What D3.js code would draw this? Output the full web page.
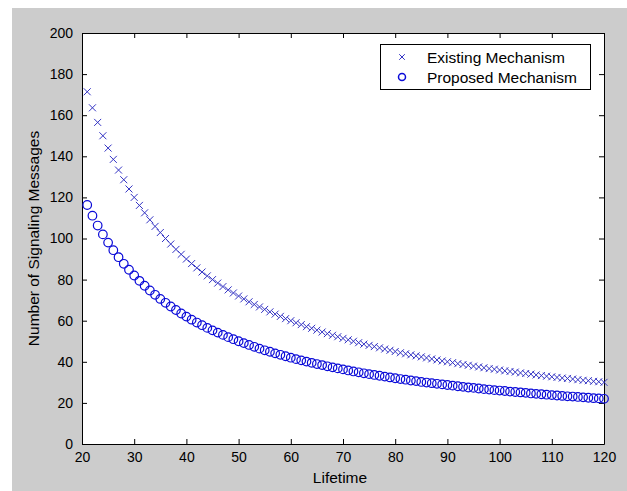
<!DOCTYPE html>
<html>
<head>
<meta charset="utf-8">
<script src="https://cdn.jsdelivr.net/npm/d3@7"></script>
<style>
  html, body { margin: 0; padding: 0; background: #ffffff; }
  svg { display: block; }
  text { font-family: "Liberation Sans", Arial, sans-serif; }
</style>
</head>
<body>
<svg id="chart" width="627" height="491"></svg>
<script>
// ---- data ----
const lifetime = [21,22,23,24,25,26,27,28,29,30,31,32,33,34,35,36,37,38,39,40,
  41,42,43,44,45,46,47,48,49,50,51,52,53,54,55,56,57,58,59,60,
  61,62,63,64,65,66,67,68,69,70,71,72,73,74,75,76,77,78,79,80,
  81,82,83,84,85,86,87,88,89,90,91,92,93,94,95,96,97,98,99,100,
  101,102,103,104,105,106,107,108,109,110,111,112,113,114,115,116,117,118,119,120];

const existing = [171.4,163.6,156.5,150.0,144.0,138.5,133.3,128.6,124.1,120.0,
  116.1,112.5,109.1,105.9,102.9,100.0,97.3,94.7,92.3,90.0,
  87.8,85.7,83.7,81.8,80.0,78.3,76.6,75.0,73.5,72.0,
  70.6,69.2,67.9,66.7,65.5,64.3,63.2,62.1,61.0,60.0,
  59.0,58.1,57.1,56.3,55.4,54.5,53.7,52.9,52.2,51.4,
  50.7,50.0,49.3,48.6,48.0,47.4,46.8,46.2,45.6,45.0,
  44.4,43.9,43.4,42.9,42.4,41.9,41.4,40.9,40.4,40.0,
  39.6,39.1,38.7,38.3,37.9,37.5,37.1,36.7,36.4,36.0,
  35.6,35.3,35.0,34.6,34.3,34.0,33.6,33.3,33.0,32.7,
  32.4,32.1,31.9,31.6,31.3,31.0,30.8,30.5,30.3,30.0];

const proposed = [116.3,111.1,106.3,102.0,98.0,94.3,90.9,87.7,84.8,82.0,
  79.4,77.0,74.7,72.6,70.6,68.7,66.9,65.2,63.5,62.0,
  60.5,59.1,57.8,56.5,55.3,54.2,53.1,52.0,51.0,50.0,
  49.1,48.2,47.3,46.4,45.6,44.9,44.1,43.4,42.7,42.0,
  41.3,40.7,40.1,39.5,38.9,38.4,37.8,37.3,36.8,36.3,
  35.8,35.3,34.9,34.4,34.0,33.6,33.2,32.8,32.4,32.0,
  31.6,31.3,30.9,30.6,30.2,29.9,29.6,29.3,29.0,28.7,
  28.4,28.1,27.8,27.5,27.3,27.0,26.7,26.5,26.2,26.0,
  25.8,25.5,25.3,25.1,24.9,24.6,24.4,24.2,24.0,23.8,
  23.6,23.4,23.2,23.1,22.9,22.7,22.5,22.3,22.2,22.0];

const xTicks = [20,30,40,50,60,70,80,90,100,110,120];
const yTicks = [0,20,40,60,80,100,120,140,160,180,200];
const seriesNames = ["Existing Mechanism", "Proposed Mechanism"];
const xTitle = "Lifetime";
const yTitle = "Number of Signaling Messages";

(function () {
// ---- layout ----
const svg = d3.select("#chart");
const W = 627, H = 491;
const pL = 82, pR = 604, pT = 33, pB = 444;
const blueX = "#3434c4";
const blueO = "#0a0ad8";
const fontSize = 14;
const titleSize = 15.5;

svg.append("rect").attr("x", 12).attr("y", 8).attr("width", W - 12).attr("height", H - 8)
  .attr("fill", "#cccccc");

const x = d3.scaleLinear().domain([20, 120]).range([pL, pR]);
const y = d3.scaleLinear().domain([0, 200]).range([pB, pT]);

svg.append("rect").attr("x", pL).attr("y", pT)
  .attr("width", pR - pL).attr("height", pB - pT)
  .attr("fill", "#ffffff");

function styleAxis(g) {
  g.attr("font-family", "'Liberation Sans', Arial, sans-serif").attr("font-size", fontSize);
  g.selectAll("path").attr("stroke", "#000").attr("stroke-width", 1);
  g.selectAll("line").attr("stroke", "#000").attr("stroke-width", 1);
  g.selectAll("text").attr("fill", "#000");
}

svg.append("g").attr("transform", `translate(0,${pB})`)
  .call(d3.axisBottom(x).tickValues(xTicks).tickSizeInner(-5).tickSizeOuter(0).tickPadding(8))
  .call(styleAxis);
svg.append("g").attr("transform", `translate(${pL},0)`)
  .call(d3.axisLeft(y).tickValues(yTicks).tickSizeInner(-5).tickSizeOuter(0).tickPadding(9))
  .call(styleAxis);
svg.append("g").attr("transform", `translate(0,${pT})`)
  .call(d3.axisTop(x).tickValues(xTicks).tickSizeInner(-5).tickSizeOuter(0).tickFormat(""))
  .call(styleAxis);
svg.append("g").attr("transform", `translate(${pR},0)`)
  .call(d3.axisRight(y).tickValues(yTicks).tickSizeInner(-5).tickSizeOuter(0).tickFormat(""))
  .call(styleAxis);

// ---- data marks ----
const xs = 3.5;
const gE = svg.append("g");
gE.selectAll("path").data(lifetime).join("path")
  .attr("d", (d, i) => {
    const cx = x(d), cy = y(existing[i]);
    return `M${cx - xs},${cy - xs}L${cx + xs},${cy + xs}M${cx - xs},${cy + xs}L${cx + xs},${cy - xs}`;
  })
  .attr("stroke", blueX).attr("stroke-width", 1).attr("fill", "none");

const gP = svg.append("g");
gP.selectAll("circle").data(lifetime).join("circle")
  .attr("cx", d => x(d)).attr("cy", (d, i) => y(proposed[i]))
  .attr("r", 4.3)
  .attr("stroke", blueO).attr("stroke-width", 1.2).attr("fill", "none");

// ---- axis titles ----
svg.append("text").attr("x", 340).attr("y", 483)
  .attr("text-anchor", "middle").attr("font-size", titleSize).attr("fill", "#000")
  .text(xTitle);
svg.append("text")
  .attr("transform", `translate(39,${(pT + pB) / 2}) rotate(-90)`)
  .attr("text-anchor", "middle").attr("font-size", titleSize).attr("fill", "#000")
  .text(yTitle);

// ---- legend ----
const lg = svg.append("g");
lg.append("rect").attr("x", 380.5).attr("y", 44.5).attr("width", 210).attr("height", 45)
  .attr("fill", "#ffffff").attr("stroke", "#000").attr("stroke-width", 1);
const rowY = [57, 77];
const lx = 402, ls = 2.8;
lg.append("path")
  .attr("d", `M${lx - ls},${rowY[0] - ls}L${lx + ls},${rowY[0] + ls}M${lx - ls},${rowY[0] + ls}L${lx + ls},${rowY[0] - ls}`)
  .attr("stroke", blueX).attr("stroke-width", 1).attr("fill", "none");
lg.append("circle").attr("cx", lx).attr("cy", rowY[1]).attr("r", 3.5)
  .attr("stroke", blueO).attr("stroke-width", 1.5).attr("fill", "none");
lg.selectAll("text.lab").data(seriesNames).join("text")
  .attr("class", "lab")
  .attr("x", 427).attr("y", (d, i) => rowY[i] + 5.5)
  .attr("font-size", titleSize).attr("fill", "#000")
  .text(d => d);
})();
</script>
</body>
</html>
